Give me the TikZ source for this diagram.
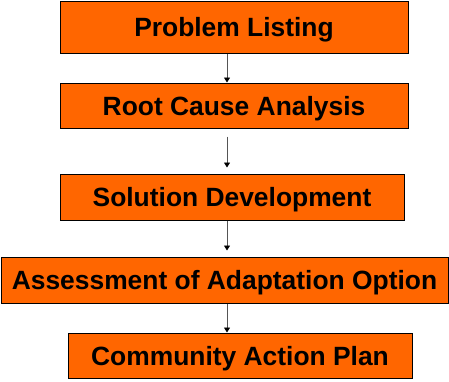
\documentclass[tikz,border=0pt]{standalone}
\usepackage{fontspec}
\setmainfont{Liberation Sans}
\usetikzlibrary{arrows.meta}
\definecolor{boxorange}{HTML}{FF6600}
\definecolor{arrgray}{HTML}{555555}
\begin{document}
\begin{tikzpicture}[x=1pt,y=-1pt,
  stagebox/.style={draw=black, line width=1pt, fill=boxorange, inner sep=0pt,
    font=\fontsize{26.4}{30}\selectfont\bfseries, text height=19pt, text depth=0pt},
  flowarrow/.style={draw=arrgray, line width=0.9pt,
    -{Triangle[length=5pt,width=6pt,fill=black,color=black]}}]
\useasboundingbox (0,0) rectangle (449,381);
\node[stagebox, minimum width=348pt, minimum height=52pt] (b1) at (234,27) {Problem Listing};
\node[stagebox, minimum width=348pt, minimum height=45pt] (b2) at (234,105.5) {Root Cause Analysis};
\node[stagebox, minimum width=344pt, minimum height=46pt] (b3) at (232,197) {Solution Development};
\node[stagebox, minimum width=447pt, minimum height=46pt] (b4) at (224.5,280) {Assessment of Adaptation Option};
\node[stagebox, minimum width=344pt, minimum height=45pt] (b5) at (240,355.5) {Community Action Plan};
\coordinate (ax) at (227,0);
\draw[flowarrow] (b1.south -| ax) -- (b2.north -| ax);
\draw[flowarrow, shorten <=8pt, shorten >=6pt] (b2.south -| ax) -- (b3.north -| ax);
\draw[flowarrow, shorten >=6pt] (b3.south -| ax) -- (b4.north -| ax);
\draw[flowarrow] (b4.south -| ax) -- (b5.north -| ax);
\end{tikzpicture}
\end{document}
